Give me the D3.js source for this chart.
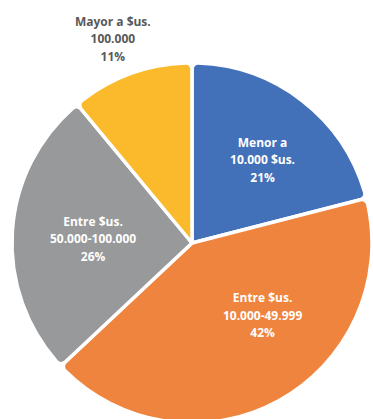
<!DOCTYPE html>
<html>
<head>
<meta charset="utf-8">
<script src="https://cdn.jsdelivr.net/npm/d3@7"></script>
<style>
  html, body { margin: 0; padding: 0; background: #fff; }
  svg { display: block; }
  text { font-family: "Open Sans", "DejaVu Sans", sans-serif; font-weight: 700; font-size: 12px; }
</style>
</head>
<body>
<svg id="chart" width="373" height="419"></svg>
<script>
// Income brackets, in clockwise order from 12 o'clock
const categories = [
  ["Menor a", "10.000 $us."],
  ["Entre $us.", "10.000-49.999"],
  ["Entre $us.", "50.000-100.000"],
  ["Mayor a $us.", "100.000"]
];
const shares = [21, 42, 26, 11];
const colors = ["#4371b9", "#ef843e", "#97999b", "#fbba2b"];

const svg = d3.select("#chart");
const cx = 192, cy = 243, R = 180;

const pie = d3.pie().sort(null).value(d => d)(shares);
const arc = d3.arc().innerRadius(0).outerRadius(R).cornerRadius(6);

const g = svg.append("g").attr("transform", `translate(${cx},${cy})`);

g.selectAll("path")
  .data(pie)
  .join("path")
  .attr("d", arc)
  .attr("fill", (d, i) => colors[i])
  .attr("stroke", "#fff")
  .attr("stroke-width", 3.5)
  .attr("stroke-linejoin", "round");

// Label placement: inside labels sit on an inner ring, the small slice gets its label outside
const labelRing = [
  { r: 108, shift: 3 },
  { r: 102, shift: -15 },
  { r: 99, shift: -2 },
  { r: 218, shift: -1.5 }
];

pie.forEach((d, i) => {
  const mid = (d.startAngle + d.endAngle) / 2 + labelRing[i].shift * Math.PI / 180;
  const r = labelRing[i].r;
  const x = r * Math.sin(mid);
  const y = -r * Math.cos(mid);
  const lines = [...categories[i], shares[i] + "%"];
  const fill = i === 3 ? "#595959" : "#ffffff";
  const t = g.append("text")
    .attr("text-anchor", "middle")
    .attr("fill", fill)
    .attr("x", x)
    .attr("y", y - 17.5);
  lines.forEach((s, k) => {
    t.append("tspan")
      .attr("x", x)
      .attr("dy", k === 0 ? 0 : 17.5)
      .attr("dominant-baseline", "middle")
      .text(s);
  });
});
</script>
</body>
</html>
